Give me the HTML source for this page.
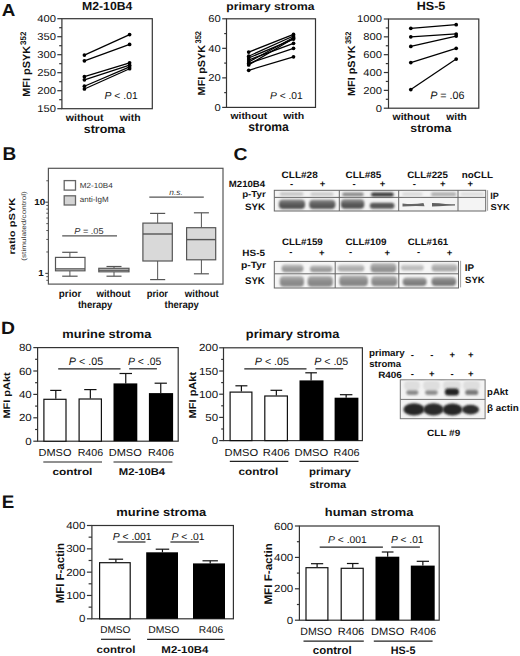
<!DOCTYPE html>
<html><head><meta charset="utf-8"><style>
html,body{margin:0;padding:0;background:#fff;width:520px;height:656px;overflow:hidden}
svg{display:block}
text{font-family:"Liberation Sans", sans-serif;text-rendering:geometricPrecision}
</style></head><body>
<svg width="520" height="656" viewBox="0 0 520 656">
<rect x="0" y="0" width="520" height="656" fill="#fff"/>
<text x="1.73" y="16.3" font-size="17.39" font-weight="bold" textLength="13.58" lengthAdjust="spacingAndGlyphs" fill="#111">A</text>
<rect x="61.9" y="18.7" width="90.4" height="90" fill="none" stroke="#333" stroke-width="1.2" />
<line x1="57.3" y1="108.7" x2="61.9" y2="108.7" stroke="#333" stroke-width="1.2"/>
<text x="37.24" y="112.15" font-size="10" textLength="18.69" lengthAdjust="spacingAndGlyphs" fill="#111">150</text>
<line x1="57.3" y1="90.7" x2="61.9" y2="90.7" stroke="#333" stroke-width="1.2"/>
<text x="37.24" y="94.15" font-size="10" textLength="18.69" lengthAdjust="spacingAndGlyphs" fill="#111">200</text>
<line x1="57.3" y1="72.7" x2="61.9" y2="72.7" stroke="#333" stroke-width="1.2"/>
<text x="37.24" y="76.15" font-size="10" textLength="18.69" lengthAdjust="spacingAndGlyphs" fill="#111">250</text>
<line x1="57.3" y1="54.7" x2="61.9" y2="54.7" stroke="#333" stroke-width="1.2"/>
<text x="37.24" y="58.15" font-size="10" textLength="18.69" lengthAdjust="spacingAndGlyphs" fill="#111">300</text>
<line x1="57.3" y1="36.7" x2="61.9" y2="36.7" stroke="#333" stroke-width="1.2"/>
<text x="37.24" y="40.15" font-size="10" textLength="18.69" lengthAdjust="spacingAndGlyphs" fill="#111">350</text>
<line x1="57.3" y1="18.7" x2="61.9" y2="18.7" stroke="#333" stroke-width="1.2"/>
<text x="37.24" y="22.15" font-size="10" textLength="18.69" lengthAdjust="spacingAndGlyphs" fill="#111">400</text>
<line x1="59.2" y1="99.7" x2="61.9" y2="99.7" stroke="#333" stroke-width="1.2"/>
<line x1="59.2" y1="81.7" x2="61.9" y2="81.7" stroke="#333" stroke-width="1.2"/>
<line x1="59.2" y1="63.7" x2="61.9" y2="63.7" stroke="#333" stroke-width="1.2"/>
<line x1="59.2" y1="45.7" x2="61.9" y2="45.7" stroke="#333" stroke-width="1.2"/>
<line x1="59.2" y1="27.7" x2="61.9" y2="27.7" stroke="#333" stroke-width="1.2"/>
<line x1="84.4" y1="55.06" x2="129.6" y2="34.61" stroke="#000" stroke-width="1.25"/>
<line x1="84.4" y1="60.82" x2="129.6" y2="44.4" stroke="#000" stroke-width="1.25"/>
<line x1="84.4" y1="76.66" x2="129.6" y2="62.8" stroke="#000" stroke-width="1.25"/>
<line x1="84.4" y1="79.79" x2="129.6" y2="65.14" stroke="#000" stroke-width="1.25"/>
<line x1="84.4" y1="86.2" x2="129.6" y2="66.94" stroke="#000" stroke-width="1.25"/>
<line x1="84.4" y1="89.01" x2="129.6" y2="68.74" stroke="#000" stroke-width="1.25"/>
<circle cx="84.4" cy="55.06" r="1.85" fill="#000"/>
<circle cx="129.6" cy="34.61" r="1.85" fill="#000"/>
<circle cx="84.4" cy="60.82" r="1.85" fill="#000"/>
<circle cx="129.6" cy="44.4" r="1.85" fill="#000"/>
<circle cx="84.4" cy="76.66" r="1.85" fill="#000"/>
<circle cx="129.6" cy="62.8" r="1.85" fill="#000"/>
<circle cx="84.4" cy="79.79" r="1.85" fill="#000"/>
<circle cx="129.6" cy="65.14" r="1.85" fill="#000"/>
<circle cx="84.4" cy="86.2" r="1.85" fill="#000"/>
<circle cx="129.6" cy="66.94" r="1.85" fill="#000"/>
<circle cx="84.4" cy="89.01" r="1.85" fill="#000"/>
<circle cx="129.6" cy="68.74" r="1.85" fill="#000"/>
<text x="82" y="9.78" font-size="11.69" font-weight="bold" textLength="50.39" lengthAdjust="spacingAndGlyphs" fill="#111">M2-10B4</text>
<text x="-96.81" y="29.71" font-size="10.44" font-weight="bold" textLength="50.83" lengthAdjust="spacingAndGlyphs" fill="#111" transform="rotate(-90)">MFI pSYK</text>
<text x="-44.9" y="25.82" font-size="8.17" font-weight="bold" textLength="13.35" lengthAdjust="spacingAndGlyphs" fill="#111" transform="rotate(-90)">352</text>
<text x="65.75" y="120.5" font-size="10.2" font-weight="bold" textLength="37.7" lengthAdjust="spacingAndGlyphs" fill="#111">without</text>
<text x="119.75" y="120.5" font-size="10.2" font-weight="bold" textLength="20.87" lengthAdjust="spacingAndGlyphs" fill="#111">with</text>
<text x="83.76" y="132.58" font-size="11.73" font-weight="bold" textLength="41.51" lengthAdjust="spacingAndGlyphs" fill="#111">stroma</text>
<text x="104.57" y="99.1" font-size="10.06" fill="#111" textLength="33.09" lengthAdjust="spacingAndGlyphs"><tspan font-style="italic">P</tspan> &lt; .01</text>
<rect x="226.5" y="18.8" width="89" height="88.6" fill="none" stroke="#333" stroke-width="1.2" />
<line x1="222.2" y1="107.4" x2="226.5" y2="107.4" stroke="#333" stroke-width="1.2"/>
<text x="214.58" y="110.85" font-size="10" textLength="6.23" lengthAdjust="spacingAndGlyphs" fill="#111">0</text>
<line x1="222.2" y1="77.87" x2="226.5" y2="77.87" stroke="#333" stroke-width="1.2"/>
<text x="208.36" y="81.32" font-size="10" textLength="12.46" lengthAdjust="spacingAndGlyphs" fill="#111">20</text>
<line x1="222.2" y1="48.33" x2="226.5" y2="48.33" stroke="#333" stroke-width="1.2"/>
<text x="208.36" y="51.78" font-size="10" textLength="12.46" lengthAdjust="spacingAndGlyphs" fill="#111">40</text>
<line x1="222.2" y1="18.8" x2="226.5" y2="18.8" stroke="#333" stroke-width="1.2"/>
<text x="208.36" y="22.25" font-size="10" textLength="12.46" lengthAdjust="spacingAndGlyphs" fill="#111">60</text>
<line x1="224.2" y1="92.63" x2="226.5" y2="92.63" stroke="#333" stroke-width="1.2"/>
<line x1="224.2" y1="63.1" x2="226.5" y2="63.1" stroke="#333" stroke-width="1.2"/>
<line x1="224.2" y1="33.57" x2="226.5" y2="33.57" stroke="#333" stroke-width="1.2"/>
<line x1="248.7" y1="52.1" x2="293.5" y2="34.39" stroke="#000" stroke-width="1.25"/>
<line x1="248.7" y1="56.2" x2="293.5" y2="36" stroke="#000" stroke-width="1.25"/>
<line x1="248.7" y1="58.01" x2="293.5" y2="39.1" stroke="#000" stroke-width="1.25"/>
<line x1="248.7" y1="60" x2="293.5" y2="43.3" stroke="#000" stroke-width="1.25"/>
<line x1="248.7" y1="62.01" x2="293.5" y2="37.49" stroke="#000" stroke-width="1.25"/>
<line x1="248.7" y1="63.5" x2="293.5" y2="48.3" stroke="#000" stroke-width="1.25"/>
<line x1="248.7" y1="64.9" x2="293.5" y2="38.5" stroke="#000" stroke-width="1.25"/>
<line x1="248.7" y1="70.31" x2="293.5" y2="56.79" stroke="#000" stroke-width="1.25"/>
<circle cx="248.7" cy="52.1" r="1.85" fill="#000"/>
<circle cx="293.5" cy="34.39" r="1.85" fill="#000"/>
<circle cx="248.7" cy="56.2" r="1.85" fill="#000"/>
<circle cx="293.5" cy="36" r="1.85" fill="#000"/>
<circle cx="248.7" cy="58.01" r="1.85" fill="#000"/>
<circle cx="293.5" cy="39.1" r="1.85" fill="#000"/>
<circle cx="248.7" cy="60" r="1.85" fill="#000"/>
<circle cx="293.5" cy="43.3" r="1.85" fill="#000"/>
<circle cx="248.7" cy="62.01" r="1.85" fill="#000"/>
<circle cx="293.5" cy="37.49" r="1.85" fill="#000"/>
<circle cx="248.7" cy="63.5" r="1.85" fill="#000"/>
<circle cx="293.5" cy="48.3" r="1.85" fill="#000"/>
<circle cx="248.7" cy="64.9" r="1.85" fill="#000"/>
<circle cx="293.5" cy="38.5" r="1.85" fill="#000"/>
<circle cx="248.7" cy="70.31" r="1.85" fill="#000"/>
<circle cx="293.5" cy="56.79" r="1.85" fill="#000"/>
<text x="226.31" y="10.13" font-size="10.8" font-weight="bold" textLength="88.18" lengthAdjust="spacingAndGlyphs" fill="#111">primary stroma</text>
<text x="-95.4" y="205.15" font-size="10.22" font-weight="bold" textLength="50.53" lengthAdjust="spacingAndGlyphs" fill="#111" transform="rotate(-90)">MFI pSYK</text>
<text x="-43.49" y="201.32" font-size="8.31" font-weight="bold" textLength="12.51" lengthAdjust="spacingAndGlyphs" fill="#111" transform="rotate(-90)">352</text>
<text x="230.55" y="119.2" font-size="9.52" font-weight="bold" textLength="36.6" lengthAdjust="spacingAndGlyphs" fill="#111">without</text>
<text x="283.15" y="119.2" font-size="9.52" font-weight="bold" textLength="21.07" lengthAdjust="spacingAndGlyphs" fill="#111">with</text>
<text x="248.37" y="131.38" font-size="12.33" font-weight="bold" textLength="40.5" lengthAdjust="spacingAndGlyphs" fill="#111">stroma</text>
<text x="269.98" y="99.1" font-size="10.01" fill="#111" textLength="32.78" lengthAdjust="spacingAndGlyphs"><tspan font-style="italic">P</tspan> &lt; .01</text>
<rect x="388.5" y="19" width="90.3" height="89.2" fill="none" stroke="#333" stroke-width="1.2" />
<line x1="383.8" y1="108.2" x2="388.5" y2="108.2" stroke="#333" stroke-width="1.2"/>
<text x="375.68" y="111.65" font-size="10" textLength="6.23" lengthAdjust="spacingAndGlyphs" fill="#111">0</text>
<line x1="383.8" y1="90.36" x2="388.5" y2="90.36" stroke="#333" stroke-width="1.2"/>
<text x="363.24" y="93.81" font-size="10" textLength="18.69" lengthAdjust="spacingAndGlyphs" fill="#111">200</text>
<line x1="383.8" y1="72.52" x2="388.5" y2="72.52" stroke="#333" stroke-width="1.2"/>
<text x="363.24" y="75.97" font-size="10" textLength="18.69" lengthAdjust="spacingAndGlyphs" fill="#111">400</text>
<line x1="383.8" y1="54.68" x2="388.5" y2="54.68" stroke="#333" stroke-width="1.2"/>
<text x="363.24" y="58.13" font-size="10" textLength="18.69" lengthAdjust="spacingAndGlyphs" fill="#111">600</text>
<line x1="383.8" y1="36.84" x2="388.5" y2="36.84" stroke="#333" stroke-width="1.2"/>
<text x="363.24" y="40.29" font-size="10" textLength="18.69" lengthAdjust="spacingAndGlyphs" fill="#111">800</text>
<line x1="383.8" y1="19" x2="388.5" y2="19" stroke="#333" stroke-width="1.2"/>
<text x="356.97" y="22.45" font-size="10" textLength="24.92" lengthAdjust="spacingAndGlyphs" fill="#111">1000</text>
<line x1="385.8" y1="99.28" x2="388.5" y2="99.28" stroke="#333" stroke-width="1.2"/>
<line x1="385.8" y1="81.44" x2="388.5" y2="81.44" stroke="#333" stroke-width="1.2"/>
<line x1="385.8" y1="63.6" x2="388.5" y2="63.6" stroke="#333" stroke-width="1.2"/>
<line x1="385.8" y1="45.76" x2="388.5" y2="45.76" stroke="#333" stroke-width="1.2"/>
<line x1="385.8" y1="27.92" x2="388.5" y2="27.92" stroke="#333" stroke-width="1.2"/>
<line x1="410.8" y1="28.37" x2="456.2" y2="24.71" stroke="#000" stroke-width="1.25"/>
<line x1="410.8" y1="36.84" x2="456.2" y2="33.99" stroke="#000" stroke-width="1.25"/>
<line x1="410.8" y1="46.38" x2="456.2" y2="36.04" stroke="#000" stroke-width="1.25"/>
<line x1="410.8" y1="62.53" x2="456.2" y2="48.35" stroke="#000" stroke-width="1.25"/>
<line x1="410.8" y1="89.56" x2="456.2" y2="59.05" stroke="#000" stroke-width="1.25"/>
<circle cx="410.8" cy="28.37" r="1.85" fill="#000"/>
<circle cx="456.2" cy="24.71" r="1.85" fill="#000"/>
<circle cx="410.8" cy="36.84" r="1.85" fill="#000"/>
<circle cx="456.2" cy="33.99" r="1.85" fill="#000"/>
<circle cx="410.8" cy="46.38" r="1.85" fill="#000"/>
<circle cx="456.2" cy="36.04" r="1.85" fill="#000"/>
<circle cx="410.8" cy="62.53" r="1.85" fill="#000"/>
<circle cx="456.2" cy="48.35" r="1.85" fill="#000"/>
<circle cx="410.8" cy="89.56" r="1.85" fill="#000"/>
<circle cx="456.2" cy="59.05" r="1.85" fill="#000"/>
<text x="416.68" y="10.08" font-size="11.97" font-weight="bold" textLength="28.68" lengthAdjust="spacingAndGlyphs" fill="#111">HS-5</text>
<text x="-96" y="354.63" font-size="10.33" font-weight="bold" textLength="50.53" lengthAdjust="spacingAndGlyphs" fill="#111" transform="rotate(-90)">MFI pSYK</text>
<text x="-44.09" y="350.82" font-size="8.17" font-weight="bold" textLength="12.51" lengthAdjust="spacingAndGlyphs" fill="#111" transform="rotate(-90)">352</text>
<text x="392.55" y="119.5" font-size="9.8" font-weight="bold" textLength="37.2" lengthAdjust="spacingAndGlyphs" fill="#111">without</text>
<text x="446.35" y="119.5" font-size="9.8" font-weight="bold" textLength="20.46" lengthAdjust="spacingAndGlyphs" fill="#111">with</text>
<text x="410.37" y="132.38" font-size="11.58" font-weight="bold" textLength="41" lengthAdjust="spacingAndGlyphs" fill="#111">stroma</text>
<text x="430.14" y="98.69" font-size="10.74" fill="#111" textLength="34.28" lengthAdjust="spacingAndGlyphs"><tspan font-style="italic">P</tspan> = .06</text>
<text x="2.56" y="159.7" font-size="18.55" font-weight="bold" textLength="13.73" lengthAdjust="spacingAndGlyphs" fill="#111">B</text>
<rect x="48.4" y="168.3" width="174.6" height="115.8" fill="none" stroke="#555" stroke-width="1.2" />
<line x1="45.3" y1="273.4" x2="48.4" y2="273.4" stroke="#555" stroke-width="1.2"/>
<line x1="45.3" y1="202.2" x2="48.4" y2="202.2" stroke="#555" stroke-width="1.2"/>
<text x="34.25" y="205.24" font-size="8.8" font-weight="bold" textLength="10.96" lengthAdjust="spacingAndGlyphs" fill="#111">10</text>
<text x="38.18" y="276.44" font-size="8.8" font-weight="bold" textLength="5.48" lengthAdjust="spacingAndGlyphs" fill="#111">1</text>
<line x1="46.3" y1="280.3" x2="48.4" y2="280.3" stroke="#555" stroke-width="1"/>
<line x1="46.3" y1="276.66" x2="48.4" y2="276.66" stroke="#555" stroke-width="1"/>
<line x1="46.3" y1="251.97" x2="48.4" y2="251.97" stroke="#555" stroke-width="1"/>
<line x1="46.3" y1="239.43" x2="48.4" y2="239.43" stroke="#555" stroke-width="1"/>
<line x1="46.3" y1="230.53" x2="48.4" y2="230.53" stroke="#555" stroke-width="1"/>
<line x1="46.3" y1="223.63" x2="48.4" y2="223.63" stroke="#555" stroke-width="1"/>
<line x1="46.3" y1="218" x2="48.4" y2="218" stroke="#555" stroke-width="1"/>
<line x1="46.3" y1="213.23" x2="48.4" y2="213.23" stroke="#555" stroke-width="1"/>
<line x1="46.3" y1="209.1" x2="48.4" y2="209.1" stroke="#555" stroke-width="1"/>
<line x1="46.3" y1="205.46" x2="48.4" y2="205.46" stroke="#555" stroke-width="1"/>
<line x1="46.3" y1="180.77" x2="48.4" y2="180.77" stroke="#555" stroke-width="1"/>
<rect x="64.2" y="180.6" width="11.3" height="9.5" fill="#fff" stroke="#666" stroke-width="1.3" />
<rect x="64.2" y="195.8" width="11.3" height="9.2" fill="#d4d4d4" stroke="#666" stroke-width="1.3" />
<text x="79.65" y="188.13" font-size="7.46" textLength="33.02" lengthAdjust="spacingAndGlyphs" fill="#333">M2-10B4</text>
<text x="79.78" y="202.3" font-size="7.8" textLength="28.98" lengthAdjust="spacingAndGlyphs" fill="#333">anti-IgM</text>
<line x1="69.9" y1="252.3" x2="69.9" y2="257.4" stroke="#555" stroke-width="1"/>
<line x1="69.9" y1="270.8" x2="69.9" y2="276.2" stroke="#555" stroke-width="1"/>
<line x1="62.2" y1="252.3" x2="77.6" y2="252.3" stroke="#555" stroke-width="1.2"/>
<line x1="62.2" y1="276.2" x2="77.6" y2="276.2" stroke="#555" stroke-width="1.2"/>
<rect x="55.5" y="257.4" width="29.5" height="13.4" fill="#fff" stroke="#555" stroke-width="1.2" />
<line x1="55.5" y1="268.9" x2="85" y2="268.9" stroke="#555" stroke-width="1.4"/>
<line x1="114" y1="266.5" x2="114" y2="268.3" stroke="#555" stroke-width="1"/>
<line x1="114" y1="271.8" x2="114" y2="276.2" stroke="#555" stroke-width="1"/>
<line x1="106.5" y1="266.5" x2="121.5" y2="266.5" stroke="#555" stroke-width="1.2"/>
<line x1="106.5" y1="276.2" x2="121.5" y2="276.2" stroke="#555" stroke-width="1.2"/>
<rect x="98.8" y="268.3" width="30.2" height="3.5" fill="#fff" stroke="#555" stroke-width="1.2" />
<line x1="98.8" y1="270.2" x2="129" y2="270.2" stroke="#555" stroke-width="1.4"/>
<line x1="157.65" y1="213.4" x2="157.65" y2="223.1" stroke="#555" stroke-width="1"/>
<line x1="157.65" y1="261" x2="157.65" y2="279.6" stroke="#555" stroke-width="1"/>
<line x1="150.1" y1="213.4" x2="165.2" y2="213.4" stroke="#555" stroke-width="1.2"/>
<line x1="150.1" y1="279.6" x2="165.2" y2="279.6" stroke="#555" stroke-width="1.2"/>
<rect x="142.9" y="223.1" width="29.4" height="37.9" fill="#d9d9d9" stroke="#555" stroke-width="1.2" />
<line x1="142.9" y1="234" x2="172.3" y2="234" stroke="#555" stroke-width="1.4"/>
<line x1="201.4" y1="212.8" x2="201.4" y2="227.7" stroke="#555" stroke-width="1"/>
<line x1="201.4" y1="259.8" x2="201.4" y2="273.8" stroke="#555" stroke-width="1"/>
<line x1="193.9" y1="212.8" x2="208.9" y2="212.8" stroke="#555" stroke-width="1.2"/>
<line x1="193.9" y1="273.8" x2="208.9" y2="273.8" stroke="#555" stroke-width="1.2"/>
<rect x="186.6" y="227.7" width="29.1" height="32.1" fill="#d9d9d9" stroke="#555" stroke-width="1.2" />
<line x1="186.6" y1="239.6" x2="215.7" y2="239.6" stroke="#555" stroke-width="1.4"/>
<line x1="62.2" y1="235.8" x2="117" y2="235.8" stroke="#555" stroke-width="1.2"/>
<text x="74.26" y="233.71" font-size="8.69" fill="#333" textLength="29.29" lengthAdjust="spacingAndGlyphs"><tspan font-style="italic">P</tspan> = .05</text>
<line x1="149.3" y1="197.2" x2="203.8" y2="197.2" stroke="#555" stroke-width="1.2"/>
<text x="169.37" y="194.82" font-size="8" font-style="italic" textLength="13.44" lengthAdjust="spacingAndGlyphs" fill="#333">n.s.</text>
<text x="-254.52" y="15.38" font-size="8.66" font-weight="bold" textLength="56.86" lengthAdjust="spacingAndGlyphs" fill="#111" transform="rotate(-90)">ratio pSYK</text>
<text x="-260.69" y="25.53" font-size="6.52" textLength="69.51" lengthAdjust="spacingAndGlyphs" fill="#333" transform="rotate(-90)">(stimulated/control)</text>
<text x="58.86" y="297" font-size="10.2" font-weight="bold" textLength="22.36" lengthAdjust="spacingAndGlyphs" fill="#111">prior</text>
<text x="96.45" y="297" font-size="10.2" font-weight="bold" textLength="34.09" lengthAdjust="spacingAndGlyphs" fill="#111">without</text>
<text x="77.9" y="307.5" font-size="10.2" font-weight="bold" textLength="34.47" lengthAdjust="spacingAndGlyphs" fill="#111">therapy</text>
<text x="146.69" y="297" font-size="10.2" font-weight="bold" textLength="21.33" lengthAdjust="spacingAndGlyphs" fill="#111">prior</text>
<text x="184.85" y="297" font-size="10.2" font-weight="bold" textLength="33.79" lengthAdjust="spacingAndGlyphs" fill="#111">without</text>
<text x="164.5" y="307.5" font-size="10.2" font-weight="bold" textLength="34.37" lengthAdjust="spacingAndGlyphs" fill="#111">therapy</text>
<defs><filter id="bl" x="-30%" y="-60%" width="160%" height="220%"><feGaussianBlur stdDeviation="0.9"/></filter><filter id="bl2" x="-30%" y="-60%" width="160%" height="220%"><feGaussianBlur stdDeviation="0.6"/></filter><filter id="bl3" x="-30%" y="-60%" width="160%" height="220%"><feGaussianBlur stdDeviation="1.2"/></filter></defs>
<text x="233.42" y="160.13" font-size="17.32" font-weight="bold" textLength="14" lengthAdjust="spacingAndGlyphs" fill="#111">C</text>
<rect x="274.3" y="190.3" width="211.4" height="20.7" fill="#f4f4f4" stroke="#666" stroke-width="1" />
<line x1="274.3" y1="197.4" x2="485.7" y2="197.4" stroke="#666" stroke-width="1"/>
<line x1="487.6" y1="190.2" x2="487.6" y2="210.8" stroke="#888" stroke-width="0.8"/>
<line x1="339.3" y1="190.3" x2="339.3" y2="211" stroke="#666" stroke-width="1"/>
<line x1="398.7" y1="190.3" x2="398.7" y2="211" stroke="#666" stroke-width="1"/>
<line x1="458" y1="190.3" x2="458" y2="211" stroke="#666" stroke-width="1"/>
<rect x="279.7" y="192.3" width="23.8" height="3.5" rx="1.75" fill="#c4c4c4" filter="url(#bl)"/>
<rect x="310.5" y="192.5" width="23" height="3.3" rx="1.65" fill="#c8c8c8" filter="url(#bl)"/>
<rect x="342.2" y="192.6" width="21.5" height="3.6" rx="1.8" fill="#8a8a8a" filter="url(#bl)"/>
<rect x="371.1" y="192.6" width="22.7" height="3.8" rx="1.9" fill="#3a3a3a" filter="url(#bl)"/>
<rect x="402.2" y="192.6" width="20.4" height="3.2" rx="1.6" fill="#d8d8d8" filter="url(#bl)"/>
<rect x="431" y="192.2" width="25.3" height="4" rx="2" fill="#b0b0b0" filter="url(#bl)"/>
<rect x="460.5" y="192.6" width="23.5" height="3.2" rx="1.6" fill="#dcdcdc" filter="url(#bl)"/>
<defs><linearGradient id="g1" x1="0" y1="0" x2="0" y2="1"><stop offset="0" stop-color="#8a8a8a"/><stop offset="0.55" stop-color="#555"/><stop offset="1" stop-color="#555"/></linearGradient></defs>
<rect x="278.9" y="199.6" width="26.2" height="9.5" rx="4" fill="url(#g1)" filter="url(#bl)"/>
<defs><linearGradient id="g2" x1="0" y1="0" x2="0" y2="1"><stop offset="0" stop-color="#8a8a8a"/><stop offset="0.55" stop-color="#585858"/><stop offset="1" stop-color="#585858"/></linearGradient></defs>
<rect x="309.2" y="199.8" width="26.2" height="9.3" rx="4" fill="url(#g2)" filter="url(#bl)"/>
<defs><linearGradient id="g3" x1="0" y1="0" x2="0" y2="1"><stop offset="0" stop-color="#9a9a9a"/><stop offset="0.55" stop-color="#555"/><stop offset="1" stop-color="#555"/></linearGradient></defs>
<rect x="340.9" y="199" width="23.4" height="9.8" rx="4" fill="url(#g3)" filter="url(#bl)"/>
<rect x="369.8" y="202.8" width="24.7" height="6" rx="3" fill="#585858" filter="url(#bl)"/>
<path d="M402.5,203.4 Q413,205 423.5,203 L424.5,206.3 Q413,205.8 402.5,206.6 Z" fill="#666" filter="url(#bl2)"/>
<path d="M432,202.9 L439,203.3 Q447,204.5 455,204.2 L455,205.6 Q447,205.6 439,206.3 L432,206.6 Z" fill="#606060" filter="url(#bl2)"/>
<text x="281.6" y="177.81" font-size="9.3" font-weight="bold" textLength="36.12" lengthAdjust="spacingAndGlyphs" fill="#111">CLL#28</text>
<text x="345.61" y="177.71" font-size="9.3" font-weight="bold" textLength="35.67" lengthAdjust="spacingAndGlyphs" fill="#111">CLL#85</text>
<text x="407.31" y="177.81" font-size="9.3" font-weight="bold" textLength="40.67" lengthAdjust="spacingAndGlyphs" fill="#111">CLL#225</text>
<text x="461.86" y="177.81" font-size="9.3" font-weight="bold" textLength="31.14" lengthAdjust="spacingAndGlyphs" fill="#111">noCLL</text>
<text x="228.77" y="186.71" font-size="9.01" font-weight="bold" textLength="36.37" lengthAdjust="spacingAndGlyphs" fill="#111">M210B4</text>
<text x="289.91" y="186.77" font-size="9.5" font-weight="bold" fill="#111">-</text>
<text x="319.82" y="187.44" font-size="9.5" font-weight="bold" fill="#111">+</text>
<text x="352.51" y="186.77" font-size="9.5" font-weight="bold" fill="#111">-</text>
<text x="379.72" y="187.44" font-size="9.5" font-weight="bold" fill="#111">+</text>
<text x="412.81" y="186.77" font-size="9.5" font-weight="bold" fill="#111">-</text>
<text x="439.92" y="187.44" font-size="9.5" font-weight="bold" fill="#111">+</text>
<text x="467.42" y="187.44" font-size="9.5" font-weight="bold" fill="#111">+</text>
<text x="242.17" y="196.76" font-size="8.78" font-weight="bold" textLength="23.59" lengthAdjust="spacingAndGlyphs" fill="#111">p-Tyr</text>
<text x="245.01" y="209.51" font-size="9.3" font-weight="bold" textLength="20.21" lengthAdjust="spacingAndGlyphs" fill="#111">SYK</text>
<text x="490.21" y="198.8" font-size="9.28" font-weight="bold" textLength="8.56" lengthAdjust="spacingAndGlyphs" fill="#111">IP</text>
<text x="490.52" y="209.81" font-size="8.59" font-weight="bold" textLength="19.18" lengthAdjust="spacingAndGlyphs" fill="#111">SYK</text>
<rect x="274.3" y="261.4" width="184.2" height="26.6" fill="#f6f6f6" stroke="#666" stroke-width="1" />
<line x1="274.3" y1="273.8" x2="458.5" y2="273.8" stroke="#666" stroke-width="1"/>
<line x1="335.2" y1="261.4" x2="335.2" y2="288" stroke="#666" stroke-width="1"/>
<line x1="398.8" y1="261.4" x2="398.8" y2="288" stroke="#666" stroke-width="1"/>
<line x1="460.6" y1="260.8" x2="460.6" y2="287.4" stroke="#888" stroke-width="0.8"/>
<defs><linearGradient id="g4" x1="0" y1="0" x2="0" y2="1"><stop offset="0" stop-color="#c8c8c8"/><stop offset="0.55" stop-color="#979797"/><stop offset="1" stop-color="#979797"/></linearGradient></defs>
<rect x="281.5" y="264.3" width="22" height="8" rx="4" fill="url(#g4)" filter="url(#bl3)"/>
<defs><linearGradient id="g5" x1="0" y1="0" x2="0" y2="1"><stop offset="0" stop-color="#c8c8c8"/><stop offset="0.55" stop-color="#9a9a9a"/><stop offset="1" stop-color="#9a9a9a"/></linearGradient></defs>
<rect x="309.9" y="265.2" width="22.5" height="7.1" rx="3.55" fill="url(#g5)" filter="url(#bl3)"/>
<defs><linearGradient id="g6" x1="0" y1="0" x2="0" y2="1"><stop offset="0" stop-color="#cfcfcf"/><stop offset="0.55" stop-color="#ababab"/><stop offset="1" stop-color="#ababab"/></linearGradient></defs>
<rect x="337.6" y="264.6" width="26.8" height="7" rx="3.5" fill="url(#g6)" filter="url(#bl3)"/>
<defs><linearGradient id="g7" x1="0" y1="0" x2="0" y2="1"><stop offset="0" stop-color="#c0c0c0"/><stop offset="0.55" stop-color="#929292"/><stop offset="1" stop-color="#929292"/></linearGradient></defs>
<rect x="370.5" y="263" width="25.9" height="9.5" rx="4" fill="url(#g7)" filter="url(#bl3)"/>
<defs><linearGradient id="g8" x1="0" y1="0" x2="0" y2="1"><stop offset="0" stop-color="#d6d6d6"/><stop offset="0.55" stop-color="#bababa"/><stop offset="1" stop-color="#bababa"/></linearGradient></defs>
<rect x="400.8" y="264.6" width="23" height="6" rx="3" fill="url(#g8)" filter="url(#bl3)"/>
<defs><linearGradient id="g9" x1="0" y1="0" x2="0" y2="1"><stop offset="0" stop-color="#cccccc"/><stop offset="0.55" stop-color="#a8a8a8"/><stop offset="1" stop-color="#a8a8a8"/></linearGradient></defs>
<rect x="431.5" y="263.8" width="26" height="7.7" rx="3.85" fill="url(#g9)" filter="url(#bl3)"/>
<defs><linearGradient id="g10" x1="0" y1="0" x2="0" y2="1"><stop offset="0" stop-color="#b4b4b4"/><stop offset="0.55" stop-color="#8a8a8a"/><stop offset="1" stop-color="#8a8a8a"/></linearGradient></defs>
<rect x="279.8" y="276.1" width="24.2" height="10.6" rx="4" fill="url(#g10)" filter="url(#bl3)"/>
<defs><linearGradient id="g11" x1="0" y1="0" x2="0" y2="1"><stop offset="0" stop-color="#b0b0b0"/><stop offset="0.55" stop-color="#888"/><stop offset="1" stop-color="#888"/></linearGradient></defs>
<rect x="307.6" y="276.1" width="25.2" height="10.6" rx="4" fill="url(#g11)" filter="url(#bl3)"/>
<defs><linearGradient id="g12" x1="0" y1="0" x2="0" y2="1"><stop offset="0" stop-color="#b0b0b0"/><stop offset="0.55" stop-color="#888"/><stop offset="1" stop-color="#888"/></linearGradient></defs>
<rect x="339.3" y="275.6" width="28.6" height="10.7" rx="4" fill="url(#g12)" filter="url(#bl3)"/>
<defs><linearGradient id="g13" x1="0" y1="0" x2="0" y2="1"><stop offset="0" stop-color="#b4b4b4"/><stop offset="0.55" stop-color="#8a8a8a"/><stop offset="1" stop-color="#8a8a8a"/></linearGradient></defs>
<rect x="371.3" y="276" width="26" height="10.3" rx="4" fill="url(#g13)" filter="url(#bl3)"/>
<defs><linearGradient id="g14" x1="0" y1="0" x2="0" y2="1"><stop offset="0" stop-color="#a8a8a8"/><stop offset="0.55" stop-color="#7e7e7e"/><stop offset="1" stop-color="#7e7e7e"/></linearGradient></defs>
<rect x="402.7" y="277.5" width="24" height="8.5" rx="4" fill="url(#g14)" filter="url(#bl3)"/>
<defs><linearGradient id="g15" x1="0" y1="0" x2="0" y2="1"><stop offset="0" stop-color="#a8a8a8"/><stop offset="0.55" stop-color="#7a7a7a"/><stop offset="1" stop-color="#7a7a7a"/></linearGradient></defs>
<rect x="431.5" y="277" width="24.7" height="9" rx="4" fill="url(#g15)" filter="url(#bl3)"/>
<text x="282.01" y="244.81" font-size="9.3" font-weight="bold" textLength="40.77" lengthAdjust="spacingAndGlyphs" fill="#111">CLL#159</text>
<text x="345.4" y="244.71" font-size="9.3" font-weight="bold" textLength="41.18" lengthAdjust="spacingAndGlyphs" fill="#111">CLL#109</text>
<text x="407.71" y="244.71" font-size="9.3" font-weight="bold" textLength="40.57" lengthAdjust="spacingAndGlyphs" fill="#111">CLL#161</text>
<text x="242.35" y="255.61" font-size="9.15" font-weight="bold" textLength="22.63" lengthAdjust="spacingAndGlyphs" fill="#111">HS-5</text>
<text x="289.31" y="255.17" font-size="9.5" font-weight="bold" fill="#111">-</text>
<text x="319.02" y="255.83" font-size="9.5" font-weight="bold" fill="#111">+</text>
<text x="349.01" y="255.17" font-size="9.5" font-weight="bold" fill="#111">-</text>
<text x="384.52" y="255.83" font-size="9.5" font-weight="bold" fill="#111">+</text>
<text x="416.91" y="255.17" font-size="9.5" font-weight="bold" fill="#111">-</text>
<text x="446.82" y="255.83" font-size="9.5" font-weight="bold" fill="#111">+</text>
<text x="240.92" y="268.11" font-size="9" font-weight="bold" textLength="25.24" lengthAdjust="spacingAndGlyphs" fill="#111">p-Tyr</text>
<text x="245.01" y="283.7" font-size="9.72" font-weight="bold" textLength="19.8" lengthAdjust="spacingAndGlyphs" fill="#111">SYK</text>
<text x="464.76" y="271.3" font-size="9.71" font-weight="bold" textLength="9.34" lengthAdjust="spacingAndGlyphs" fill="#111">IP</text>
<text x="465.11" y="282.61" font-size="9.15" font-weight="bold" textLength="19.59" lengthAdjust="spacingAndGlyphs" fill="#111">SYK</text>
<text x="1.04" y="334.2" font-size="17.83" font-weight="bold" textLength="13.97" lengthAdjust="spacingAndGlyphs" fill="#111">D</text>
<rect x="37.6" y="347.6" width="140.6" height="93.6" fill="none" stroke="#333" stroke-width="1.2" />
<line x1="33.3" y1="441.2" x2="37.6" y2="441.2" stroke="#333" stroke-width="1.2"/>
<text x="25.3" y="444.75" font-size="10.3" textLength="6.42" lengthAdjust="spacingAndGlyphs" fill="#111">0</text>
<line x1="33.3" y1="417.8" x2="37.6" y2="417.8" stroke="#333" stroke-width="1.2"/>
<text x="18.9" y="421.35" font-size="10.3" textLength="12.83" lengthAdjust="spacingAndGlyphs" fill="#111">20</text>
<line x1="33.3" y1="394.4" x2="37.6" y2="394.4" stroke="#333" stroke-width="1.2"/>
<text x="18.9" y="397.95" font-size="10.3" textLength="12.83" lengthAdjust="spacingAndGlyphs" fill="#111">40</text>
<line x1="33.3" y1="371" x2="37.6" y2="371" stroke="#333" stroke-width="1.2"/>
<text x="18.9" y="374.55" font-size="10.3" textLength="12.83" lengthAdjust="spacingAndGlyphs" fill="#111">60</text>
<line x1="33.3" y1="347.6" x2="37.6" y2="347.6" stroke="#333" stroke-width="1.2"/>
<text x="18.9" y="351.15" font-size="10.3" textLength="12.83" lengthAdjust="spacingAndGlyphs" fill="#111">80</text>
<line x1="35.1" y1="429.5" x2="37.6" y2="429.5" stroke="#333" stroke-width="1.2"/>
<line x1="35.1" y1="406.1" x2="37.6" y2="406.1" stroke="#333" stroke-width="1.2"/>
<line x1="35.1" y1="382.7" x2="37.6" y2="382.7" stroke="#333" stroke-width="1.2"/>
<line x1="35.1" y1="359.3" x2="37.6" y2="359.3" stroke="#333" stroke-width="1.2"/>
<line x1="55.8" y1="390.4" x2="55.8" y2="398.7" stroke="#111" stroke-width="1.2"/>
<line x1="50.2" y1="390.4" x2="61.4" y2="390.4" stroke="#111" stroke-width="1.2"/>
<rect x="43.9" y="399.3" width="22.1" height="41.9" fill="#fff" stroke="#111" stroke-width="1.2" />
<line x1="90.35" y1="389.6" x2="90.35" y2="398.4" stroke="#111" stroke-width="1.2"/>
<line x1="84.2" y1="389.6" x2="96.5" y2="389.6" stroke="#111" stroke-width="1.2"/>
<rect x="79.1" y="399" width="22.3" height="42.2" fill="#fff" stroke="#111" stroke-width="1.2" />
<line x1="125.75" y1="373.5" x2="125.75" y2="383.4" stroke="#111" stroke-width="1.2"/>
<line x1="119.5" y1="373.5" x2="132" y2="373.5" stroke="#111" stroke-width="1.2"/>
<rect x="113.5" y="383.4" width="23.8" height="57.8" fill="#000"/>
<line x1="160.75" y1="383.2" x2="160.75" y2="393.1" stroke="#111" stroke-width="1.2"/>
<line x1="154.6" y1="383.2" x2="166.9" y2="383.2" stroke="#111" stroke-width="1.2"/>
<rect x="148.9" y="393.1" width="24.2" height="48.1" fill="#000"/>
<line x1="58.2" y1="368.8" x2="120.5" y2="368.8" stroke="#222" stroke-width="1.2"/>
<line x1="129.2" y1="368.8" x2="156.9" y2="368.8" stroke="#222" stroke-width="1.2"/>
<text x="68.84" y="364.79" font-size="10.74" fill="#111" textLength="34.28" lengthAdjust="spacingAndGlyphs"><tspan font-style="italic">P</tspan> &lt; .05</text>
<text x="127.96" y="364.79" font-size="10.6" fill="#111" textLength="33.35" lengthAdjust="spacingAndGlyphs"><tspan font-style="italic">P</tspan> &lt; .05</text>
<text x="62.27" y="338.18" font-size="11.84" font-weight="bold" textLength="89.12" lengthAdjust="spacingAndGlyphs" fill="#111">murine stroma</text>
<text x="-418.61" y="9.7" font-size="9.52" font-weight="bold" textLength="46.34" lengthAdjust="spacingAndGlyphs" fill="#111" transform="rotate(-90)">MFI pAkt</text>
<text x="38.52" y="456" font-size="10.14" textLength="32.93" lengthAdjust="spacingAndGlyphs" fill="#111">DMSO</text>
<text x="77.65" y="456" font-size="10.14" textLength="25.49" lengthAdjust="spacingAndGlyphs" fill="#111">R406</text>
<text x="108.72" y="456" font-size="10.14" textLength="33.03" lengthAdjust="spacingAndGlyphs" fill="#111">DMSO</text>
<text x="148.03" y="456" font-size="10.14" textLength="25.91" lengthAdjust="spacingAndGlyphs" fill="#111">R406</text>
<line x1="43.3" y1="462" x2="102" y2="462" stroke="#222" stroke-width="1.2"/>
<line x1="113.5" y1="462" x2="172.4" y2="462" stroke="#222" stroke-width="1.2"/>
<text x="52.43" y="474.6" font-size="9.8" font-weight="bold" textLength="39.98" lengthAdjust="spacingAndGlyphs" fill="#111">control</text>
<text x="118.77" y="474.5" font-size="9.86" font-weight="bold" textLength="46.32" lengthAdjust="spacingAndGlyphs" fill="#111">M2-10B4</text>
<rect x="223.5" y="347.8" width="138.9" height="92.8" fill="none" stroke="#333" stroke-width="1.2" />
<line x1="219.2" y1="440.6" x2="223.5" y2="440.6" stroke="#333" stroke-width="1.2"/>
<text x="211.7" y="444.15" font-size="10.3" textLength="6.42" lengthAdjust="spacingAndGlyphs" fill="#111">0</text>
<line x1="219.2" y1="417.4" x2="223.5" y2="417.4" stroke="#333" stroke-width="1.2"/>
<text x="205.3" y="420.95" font-size="10.3" textLength="12.83" lengthAdjust="spacingAndGlyphs" fill="#111">50</text>
<line x1="219.2" y1="394.2" x2="223.5" y2="394.2" stroke="#333" stroke-width="1.2"/>
<text x="198.9" y="397.75" font-size="10.3" textLength="19.25" lengthAdjust="spacingAndGlyphs" fill="#111">100</text>
<line x1="219.2" y1="371" x2="223.5" y2="371" stroke="#333" stroke-width="1.2"/>
<text x="198.9" y="374.55" font-size="10.3" textLength="19.25" lengthAdjust="spacingAndGlyphs" fill="#111">150</text>
<line x1="219.2" y1="347.8" x2="223.5" y2="347.8" stroke="#333" stroke-width="1.2"/>
<text x="198.9" y="351.35" font-size="10.3" textLength="19.25" lengthAdjust="spacingAndGlyphs" fill="#111">200</text>
<line x1="221.2" y1="429" x2="223.5" y2="429" stroke="#333" stroke-width="1.2"/>
<line x1="221.2" y1="405.8" x2="223.5" y2="405.8" stroke="#333" stroke-width="1.2"/>
<line x1="221.2" y1="382.6" x2="223.5" y2="382.6" stroke="#333" stroke-width="1.2"/>
<line x1="221.2" y1="359.4" x2="223.5" y2="359.4" stroke="#333" stroke-width="1.2"/>
<line x1="241.4" y1="385.8" x2="241.4" y2="391.5" stroke="#111" stroke-width="1.2"/>
<line x1="235.4" y1="385.8" x2="247.4" y2="385.8" stroke="#111" stroke-width="1.2"/>
<rect x="230.1" y="392.1" width="21.8" height="48.5" fill="#fff" stroke="#111" stroke-width="1.2" />
<line x1="276.35" y1="390.3" x2="276.35" y2="395.4" stroke="#111" stroke-width="1.2"/>
<line x1="270.5" y1="390.3" x2="282.2" y2="390.3" stroke="#111" stroke-width="1.2"/>
<rect x="264.8" y="396" width="22.6" height="44.6" fill="#fff" stroke="#111" stroke-width="1.2" />
<line x1="311.1" y1="372.8" x2="311.1" y2="380.4" stroke="#111" stroke-width="1.2"/>
<line x1="305.3" y1="372.8" x2="316.9" y2="372.8" stroke="#111" stroke-width="1.2"/>
<rect x="299.5" y="380.4" width="24" height="60.2" fill="#000"/>
<line x1="346.15" y1="394.7" x2="346.15" y2="397.7" stroke="#111" stroke-width="1.2"/>
<line x1="339.9" y1="394.7" x2="352.4" y2="394.7" stroke="#111" stroke-width="1.2"/>
<rect x="334.6" y="397.7" width="23.8" height="42.9" fill="#000"/>
<line x1="244.3" y1="368.8" x2="306.5" y2="368.8" stroke="#222" stroke-width="1.2"/>
<line x1="315.5" y1="368.8" x2="343.2" y2="368.8" stroke="#222" stroke-width="1.2"/>
<text x="254.84" y="364.79" font-size="10.71" fill="#111" textLength="34.07" lengthAdjust="spacingAndGlyphs"><tspan font-style="italic">P</tspan> &lt; .05</text>
<text x="314.14" y="364.79" font-size="10.71" fill="#111" textLength="34.07" lengthAdjust="spacingAndGlyphs"><tspan font-style="italic">P</tspan> &lt; .05</text>
<text x="245.87" y="338.28" font-size="11.98" font-weight="bold" textLength="93.42" lengthAdjust="spacingAndGlyphs" fill="#111">primary stroma</text>
<text x="-418.42" y="195.59" font-size="10.05" font-weight="bold" textLength="46.55" lengthAdjust="spacingAndGlyphs" fill="#111" transform="rotate(-90)">MFI pAkt</text>
<text x="224.61" y="455.6" font-size="10.14" textLength="33.45" lengthAdjust="spacingAndGlyphs" fill="#111">DMSO</text>
<text x="262.8" y="455.6" font-size="10.14" textLength="26.86" lengthAdjust="spacingAndGlyphs" fill="#111">R406</text>
<text x="294.5" y="455.6" font-size="10.14" textLength="33.76" lengthAdjust="spacingAndGlyphs" fill="#111">DMSO</text>
<text x="333.63" y="455.6" font-size="10.14" textLength="25.91" lengthAdjust="spacingAndGlyphs" fill="#111">R406</text>
<line x1="229.8" y1="461.4" x2="288.3" y2="461.4" stroke="#222" stroke-width="1.2"/>
<line x1="299.4" y1="461.4" x2="358.5" y2="461.4" stroke="#222" stroke-width="1.2"/>
<text x="238.53" y="474.6" font-size="10.3" font-weight="bold" textLength="39.78" lengthAdjust="spacingAndGlyphs" fill="#111">control</text>
<text x="309.06" y="474.6" font-size="10.3" font-weight="bold" textLength="41.84" lengthAdjust="spacingAndGlyphs" fill="#111">primary</text>
<text x="309.42" y="487.8" font-size="10.3" font-weight="bold" textLength="36.67" lengthAdjust="spacingAndGlyphs" fill="#111">stroma</text>
<text x="368.97" y="355.6" font-size="9.4" font-weight="bold" textLength="35.82" lengthAdjust="spacingAndGlyphs" fill="#111">primary</text>
<text x="369.27" y="367.1" font-size="9.4" font-weight="bold" textLength="31.83" lengthAdjust="spacingAndGlyphs" fill="#111">stroma</text>
<text x="378.16" y="378.11" font-size="9.15" font-weight="bold" textLength="23.7" lengthAdjust="spacingAndGlyphs" fill="#111">R406</text>
<text x="410.71" y="357.77" font-size="9.5" font-weight="bold" fill="#111">-</text>
<text x="430.31" y="357.77" font-size="9.5" font-weight="bold" fill="#111">-</text>
<text x="449.42" y="357.74" font-size="9.5" font-weight="bold" fill="#111">+</text>
<text x="467.92" y="357.74" font-size="9.5" font-weight="bold" fill="#111">+</text>
<text x="410.71" y="377.47" font-size="9.5" font-weight="bold" fill="#111">-</text>
<text x="429.12" y="377.44" font-size="9.5" font-weight="bold" fill="#111">+</text>
<text x="450.61" y="377.47" font-size="9.5" font-weight="bold" fill="#111">-</text>
<text x="467.92" y="377.44" font-size="9.5" font-weight="bold" fill="#111">+</text>
<rect x="400.3" y="379.8" width="84.8" height="38.9" fill="#f3f3f3" stroke="#777" stroke-width="1" />
<line x1="400.3" y1="399.4" x2="485.1" y2="399.4" stroke="#777" stroke-width="1"/>
<rect x="404" y="381" width="16" height="9" rx="4" fill="#dedede" filter="url(#bl3)"/>
<rect x="423" y="381" width="17" height="9" rx="4" fill="#dedede" filter="url(#bl3)"/>
<rect x="443" y="381" width="18" height="9" rx="4" fill="#dedede" filter="url(#bl3)"/>
<rect x="463" y="381" width="17" height="9" rx="4" fill="#dedede" filter="url(#bl3)"/>
<rect x="406.2" y="390.2" width="12.2" height="4.8" rx="2.4" fill="#8a8a8a" filter="url(#bl)"/>
<rect x="425" y="390.2" width="12.8" height="4.8" rx="2.4" fill="#8e8e8e" filter="url(#bl)"/>
<rect x="444.8" y="388.4" width="14.2" height="7" rx="3.5" fill="#202020" filter="url(#bl)"/>
<rect x="465.2" y="389.8" width="13" height="5.2" rx="2.6" fill="#7a7a7a" filter="url(#bl)"/>
<ellipse cx="414" cy="409.4" rx="10.6" ry="6.1" fill="#282828" filter="url(#bl)"/>
<ellipse cx="433.5" cy="409.4" rx="10.2" ry="6.1" fill="#2a2a2a" filter="url(#bl)"/>
<ellipse cx="452.5" cy="409.4" rx="10" ry="6" fill="#262626" filter="url(#bl)"/>
<ellipse cx="470.5" cy="409.6" rx="8.6" ry="4.9" fill="#2e2e2e" filter="url(#bl)"/>
<text x="487.08" y="395.2" font-size="9.3" font-weight="bold" textLength="21.13" lengthAdjust="spacingAndGlyphs" fill="#111">pAkt</text>
<text x="487.01" y="410.6" font-size="9.3" font-weight="bold" textLength="31.7" lengthAdjust="spacingAndGlyphs" fill="#111">β actin</text>
<text x="427.1" y="436.21" font-size="9.15" font-weight="bold" textLength="33.16" lengthAdjust="spacingAndGlyphs" fill="#111">CLL #9</text>
<text x="1.68" y="507.9" font-size="18.12" font-weight="bold" textLength="12.51" lengthAdjust="spacingAndGlyphs" fill="#111">E</text>
<rect x="91.9" y="525.5" width="141.5" height="93.3" fill="none" stroke="#333" stroke-width="1.2" />
<line x1="86.9" y1="618.8" x2="91.9" y2="618.8" stroke="#333" stroke-width="1.2"/>
<text x="79" y="622.35" font-size="10.3" textLength="6.42" lengthAdjust="spacingAndGlyphs" fill="#111">0</text>
<line x1="86.9" y1="595.47" x2="91.9" y2="595.47" stroke="#333" stroke-width="1.2"/>
<text x="66.2" y="599.03" font-size="10.3" textLength="19.25" lengthAdjust="spacingAndGlyphs" fill="#111">100</text>
<line x1="86.9" y1="572.15" x2="91.9" y2="572.15" stroke="#333" stroke-width="1.2"/>
<text x="66.2" y="575.7" font-size="10.3" textLength="19.25" lengthAdjust="spacingAndGlyphs" fill="#111">200</text>
<line x1="86.9" y1="548.83" x2="91.9" y2="548.83" stroke="#333" stroke-width="1.2"/>
<text x="66.2" y="552.38" font-size="10.3" textLength="19.25" lengthAdjust="spacingAndGlyphs" fill="#111">300</text>
<line x1="86.9" y1="525.5" x2="91.9" y2="525.5" stroke="#333" stroke-width="1.2"/>
<text x="66.2" y="529.05" font-size="10.3" textLength="19.25" lengthAdjust="spacingAndGlyphs" fill="#111">400</text>
<line x1="88.6" y1="607.14" x2="91.9" y2="607.14" stroke="#333" stroke-width="1.2"/>
<line x1="88.6" y1="583.81" x2="91.9" y2="583.81" stroke="#333" stroke-width="1.2"/>
<line x1="88.6" y1="560.49" x2="91.9" y2="560.49" stroke="#333" stroke-width="1.2"/>
<line x1="88.6" y1="537.16" x2="91.9" y2="537.16" stroke="#333" stroke-width="1.2"/>
<line x1="115.9" y1="559.2" x2="115.9" y2="562.1" stroke="#111" stroke-width="1.2"/>
<line x1="108.7" y1="559.2" x2="123.1" y2="559.2" stroke="#111" stroke-width="1.2"/>
<rect x="99.6" y="562.7" width="30.6" height="56.1" fill="#fff" stroke="#111" stroke-width="1.2" />
<line x1="162.45" y1="549.2" x2="162.45" y2="552.3" stroke="#111" stroke-width="1.2"/>
<line x1="155.7" y1="549.2" x2="169.2" y2="549.2" stroke="#111" stroke-width="1.2"/>
<rect x="146.2" y="552.3" width="31.8" height="66.5" fill="#000"/>
<line x1="210.2" y1="560.8" x2="210.2" y2="563.4" stroke="#111" stroke-width="1.2"/>
<line x1="202.5" y1="560.8" x2="217.9" y2="560.8" stroke="#111" stroke-width="1.2"/>
<rect x="193" y="563.4" width="32" height="55.4" fill="#000"/>
<line x1="117.5" y1="542" x2="145.5" y2="542" stroke="#222" stroke-width="1.2"/>
<line x1="170.4" y1="542" x2="198.9" y2="542" stroke="#222" stroke-width="1.2"/>
<text x="112.67" y="540" font-size="10.28" fill="#111" textLength="38.9" lengthAdjust="spacingAndGlyphs"><tspan font-style="italic">P</tspan> &lt; .001</text>
<text x="171.47" y="539.8" font-size="9.85" fill="#111" textLength="33.09" lengthAdjust="spacingAndGlyphs"><tspan font-style="italic">P</tspan> &lt; .01</text>
<text x="116.26" y="515.79" font-size="11.43" font-weight="bold" textLength="89.93" lengthAdjust="spacingAndGlyphs" fill="#111">murine stroma</text>
<text x="-603.34" y="63.88" font-size="11.56" font-weight="bold" textLength="60.36" lengthAdjust="spacingAndGlyphs" fill="#111" transform="rotate(-90)">MFI F-actin</text>
<text x="100.2" y="632.9" font-size="9.86" textLength="30.11" lengthAdjust="spacingAndGlyphs" fill="#111">DMSO</text>
<text x="148.17" y="632.9" font-size="9.86" textLength="31.05" lengthAdjust="spacingAndGlyphs" fill="#111">DMSO</text>
<text x="198.79" y="632.9" font-size="9.86" textLength="24.33" lengthAdjust="spacingAndGlyphs" fill="#111">R406</text>
<line x1="101" y1="639.3" x2="130.8" y2="639.3" stroke="#222" stroke-width="1.2"/>
<line x1="147.1" y1="639.3" x2="224.6" y2="639.3" stroke="#222" stroke-width="1.2"/>
<text x="96.64" y="652.8" font-size="10.3" font-weight="bold" textLength="38.74" lengthAdjust="spacingAndGlyphs" fill="#111">control</text>
<text x="161.36" y="652.5" font-size="10" font-weight="bold" textLength="47.14" lengthAdjust="spacingAndGlyphs" fill="#111">M2-10B4</text>
<rect x="299.4" y="526" width="139.8" height="94.2" fill="none" stroke="#333" stroke-width="1.2" />
<line x1="294.9" y1="620.2" x2="299.4" y2="620.2" stroke="#333" stroke-width="1.2"/>
<text x="286.8" y="623.75" font-size="10.3" textLength="6.42" lengthAdjust="spacingAndGlyphs" fill="#111">0</text>
<line x1="294.9" y1="588.8" x2="299.4" y2="588.8" stroke="#333" stroke-width="1.2"/>
<text x="274" y="592.35" font-size="10.3" textLength="19.25" lengthAdjust="spacingAndGlyphs" fill="#111">200</text>
<line x1="294.9" y1="557.4" x2="299.4" y2="557.4" stroke="#333" stroke-width="1.2"/>
<text x="274" y="560.95" font-size="10.3" textLength="19.25" lengthAdjust="spacingAndGlyphs" fill="#111">400</text>
<line x1="294.9" y1="526" x2="299.4" y2="526" stroke="#333" stroke-width="1.2"/>
<text x="274" y="529.55" font-size="10.3" textLength="19.25" lengthAdjust="spacingAndGlyphs" fill="#111">600</text>
<line x1="296.9" y1="604.5" x2="299.4" y2="604.5" stroke="#333" stroke-width="1.2"/>
<line x1="296.9" y1="573.1" x2="299.4" y2="573.1" stroke="#333" stroke-width="1.2"/>
<line x1="296.9" y1="541.7" x2="299.4" y2="541.7" stroke="#333" stroke-width="1.2"/>
<line x1="317.1" y1="563.7" x2="317.1" y2="567.1" stroke="#111" stroke-width="1.2"/>
<line x1="311" y1="563.7" x2="323.2" y2="563.7" stroke="#111" stroke-width="1.2"/>
<rect x="306" y="567.7" width="21.9" height="52.5" fill="#fff" stroke="#111" stroke-width="1.2" />
<line x1="352.75" y1="563.5" x2="352.75" y2="567.7" stroke="#111" stroke-width="1.2"/>
<line x1="346.9" y1="563.5" x2="358.6" y2="563.5" stroke="#111" stroke-width="1.2"/>
<rect x="341.2" y="568.3" width="22" height="51.9" fill="#fff" stroke="#111" stroke-width="1.2" />
<line x1="387.65" y1="552" x2="387.65" y2="556.7" stroke="#111" stroke-width="1.2"/>
<line x1="381.8" y1="552" x2="393.5" y2="552" stroke="#111" stroke-width="1.2"/>
<rect x="375.5" y="556.7" width="23.8" height="63.5" fill="#000"/>
<line x1="422.85" y1="561.3" x2="422.85" y2="565.6" stroke="#111" stroke-width="1.2"/>
<line x1="416.7" y1="561.3" x2="429" y2="561.3" stroke="#111" stroke-width="1.2"/>
<rect x="410.8" y="565.6" width="23.9" height="54.6" fill="#000"/>
<line x1="319.7" y1="547.1" x2="382.9" y2="547.1" stroke="#222" stroke-width="1.2"/>
<line x1="391.3" y1="547.1" x2="419.9" y2="547.1" stroke="#222" stroke-width="1.2"/>
<text x="328.07" y="542.8" font-size="9.84" fill="#111" textLength="38.8" lengthAdjust="spacingAndGlyphs"><tspan font-style="italic">P</tspan> &lt; .001</text>
<text x="390.98" y="543.3" font-size="10.05" fill="#111" textLength="32.57" lengthAdjust="spacingAndGlyphs"><tspan font-style="italic">P</tspan> &lt; .01</text>
<text x="324.8" y="515.79" font-size="11.29" font-weight="bold" textLength="88.57" lengthAdjust="spacingAndGlyphs" fill="#111">human stroma</text>
<text x="-604.55" y="271.89" font-size="11.02" font-weight="bold" textLength="61.28" lengthAdjust="spacingAndGlyphs" fill="#111" transform="rotate(-90)">MFI F-actin</text>
<text x="300.35" y="634.99" font-size="10.56" textLength="31.78" lengthAdjust="spacingAndGlyphs" fill="#111">DMSO</text>
<text x="337.71" y="634.99" font-size="10.56" textLength="26.54" lengthAdjust="spacingAndGlyphs" fill="#111">R406</text>
<text x="371.11" y="634.99" font-size="10.56" textLength="33.24" lengthAdjust="spacingAndGlyphs" fill="#111">DMSO</text>
<text x="409.92" y="634.99" font-size="10.56" textLength="26.22" lengthAdjust="spacingAndGlyphs" fill="#111">R406</text>
<line x1="303.5" y1="641.2" x2="363.8" y2="641.2" stroke="#222" stroke-width="1.2"/>
<line x1="373.8" y1="641.2" x2="432.6" y2="641.2" stroke="#222" stroke-width="1.2"/>
<text x="312.84" y="654.49" font-size="11.16" font-weight="bold" textLength="38.74" lengthAdjust="spacingAndGlyphs" fill="#111">control</text>
<text x="390.8" y="653.69" font-size="10.85" font-weight="bold" textLength="24.61" lengthAdjust="spacingAndGlyphs" fill="#111">HS-5</text>
</svg></body></html>
